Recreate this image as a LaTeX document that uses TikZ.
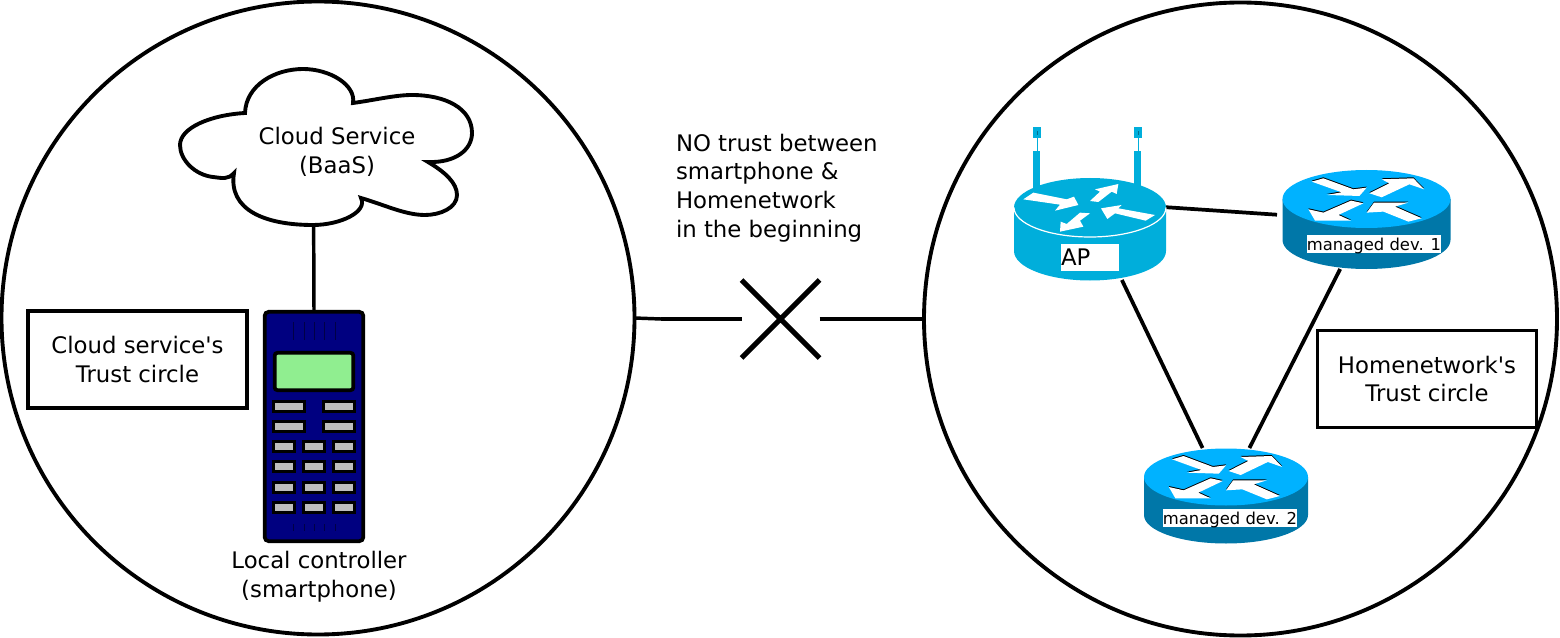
\documentclass[tikz,border=0pt]{standalone}
\usepackage{fontspec}
\newfontfamily\dejav{DejaVu Sans}
\usetikzlibrary{shapes.misc}
\definecolor{apblue}{HTML}{00AEDB}
\definecolor{apdark}{HTML}{00708E}
\definecolor{devtop}{HTML}{00B2FF}
\definecolor{devside}{HTML}{0077A8}
\definecolor{keygray}{HTML}{BEBEBE}
\definecolor{screen}{HTML}{90EE90}
\definecolor{phonebody}{HTML}{000080}
\tikzset{
  every node/.style={inner sep=0pt,outer sep=0pt},
  mainfont/.style={font=\dejav\fontsize{17.1pt}{21.6pt}\selectfont},
  smallfont/.style={font=\dejav\fontsize{12.3pt}{14pt}\selectfont},
  trustcircle/.style={circle,draw=black,line width=2.9pt,minimum size=474.75pt},
  trustbox/.style={rectangle,draw=black,line width=2.6pt,fill=white,minimum width=164pt,minimum height=72.5pt,mainfont,align=center},
  textlabel/.style={mainfont,align=center},
  link/.style={draw=black,line width=2.8pt},
  thinlink/.style={draw=black,line width=2.6pt},
  bar/.style={draw=black,line width=3.2pt},
  keyw/.style={rectangle,draw=black,fill=keygray,line width=2.25pt,minimum width=23.25pt,minimum height=7.5pt},
  keyn/.style={rectangle,draw=black,fill=keygray,line width=2.25pt,minimum width=15.75pt,minimum height=7.5pt},
  hole/.style={draw=black!45!phonebody,line width=0.5pt},
  devlabel/.style={rectangle,fill=white,smallfont,minimum width=100pt,text height=11.8pt,text depth=1.7pt},
}
% cx, cy, rx, ry, side-bottom y, top colour, side colour
\newcommand{\routerbody}[7]{%
  \fill[#7] (#1-#3,#2) -- (#1-#3,#5) arc[start angle=180,end angle=0,x radius=#3,y radius=#4] -- (#1+#3,#2) -- cycle;
  \fill[#6] (#1,#2) ellipse[x radius=#3,y radius=#4];
}
\newcommand{\devarrows}[3]{%
  \begin{scope}[shift={(#1,#2)},x=#3*0.25pt,y=-0.25pt,shift={(-290,-118)}]
    \foreach \dy/\col in {-3/black,0/white}{
      \fill[\col] (125,65+\dy) -- (160,55+\dy) -- (250,88+\dy) -- (290,83+\dy) -- (268,108+\dy) -- (170,105+\dy) -- (215,97+\dy) -- cycle;
      \fill[\col] (298,100+\dy) -- (358,70+\dy) -- (335,58+\dy) -- (430,55+\dy) -- (462,88+\dy) -- (418,73+\dy) -- (335,112+\dy) -- cycle;
      \fill[\col] (455,175+\dy) -- (415,185+\dy) -- (340,155+\dy) -- (290,158+\dy) -- (312,128+\dy) -- (415,128+\dy) -- (375,140+\dy) -- cycle;
      \fill[\col] (280,130+\dy) -- (205,165+\dy) -- (243,182+\dy) -- (135,182+\dy) -- (115,148+\dy) -- (160,158+\dy) -- (243,122+\dy) -- cycle;
    }
  \end{scope}%
}
\begin{document}
\begin{tikzpicture}[x=0.75pt,y=-0.75pt]
\useasboundingbox (0,0) rectangle (1560,638);
% trust circles
\node[trustcircle] (lc) at (318,318) {};
\node[trustcircle] (rc) at (1240.5,319) {};
% cross and the broken link
\node[cross out,draw=black,line width=3.9pt,minimum width=58.5pt,minimum height=58.5pt] (x) at (780.5,319) {};
\coordinate (lj) at (661,319);
\coordinate (rj) at (899,319);
\draw[thinlink] (lc.east) -- (lj);
\draw[bar] (lj) -- (x.west);
\draw[bar] (x.east) -- (rj);
\draw[thinlink] (rj) -- (rc.west);
% invisible router and cloud frames
\node[rectangle,minimum width=114pt,minimum height=76.5pt] (ap) at (1090,229) {};
\node[rectangle,minimum width=125.25pt,minimum height=74.25pt] (dev1) at (1366.5,219.5) {};
\node[rectangle,minimum width=123pt,minimum height=72pt] (dev2) at (1226,496) {};
\node[rectangle,minimum width=219pt,minimum height=117pt] (cloud) at (326,147) {};
% phone
\node[rectangle,rounded corners=3pt,draw=black,fill=phonebody,line width=2.8pt,minimum width=74pt,minimum height=172pt] (phone) at (314,426.5) {};
% links
\draw[thinlink] (cloud.-99.5) -- (phone.north);
\draw[link,shorten >=4.5pt] (ap.16) -- (dev1.177.3);
\draw[link] (ap.-58) -- (dev2.116);
\draw[link] (dev1.-118.6) -- (dev2.64.4);
% cloud
\draw[black,fill=white,line width=2.9pt,line join=miter]
  (245,113) .. controls (246,85) and (275,69) .. (303,69)
  .. controls (330,69) and (356,85) .. (353,103)
  .. controls (375,100) and (395,95) .. (412,95)
  .. controls (445,95) and (472,108) .. (472,133)
  .. controls (472,150) and (455,163) .. (428,162)
  .. controls (445,172) and (457,183) .. (457,195)
  .. controls (457,208) and (440,215) .. (425,215)
  .. controls (405,215) and (385,205) .. (361,198)
  .. controls (368,212) and (340,225) .. (313,225)
  .. controls (265,225) and (228,210) .. (234,173)
  .. controls (228,180) and (222,178) .. (213,177)
  .. controls (195,175) and (180,160) .. (180,145)
  .. controls (180,128) and (210,115) .. (245,113) -- cycle;
\node[textlabel] (cloudtext) at (337,152) {Cloud Service\\(BaaS)};
% phone details
\node[rectangle,rounded corners=2pt,draw=black,fill=screen,line width=2.8pt,minimum width=59pt,minimum height=28pt] (scr) at (314,371.5) {};
\foreach \gx in {293,304,314,324,335}{\draw[hole] (\gx,322) -- (\gx,340); \draw[hole] (\gx,524) -- (\gx,531);}
\foreach \ky [count=\i] in {406.5,426.5}{
  \node[keyw] (kl\i) at (289,\ky) {};
  \node[keyw] (kr\i) at (339,\ky) {};
}
\foreach \ky [count=\i] in {446.5,466.5,487.5,507.5}{
  \node[keyn] (ka\i) at (284,\ky) {};
  \node[keyn] (kb\i) at (314,\ky) {};
  \node[keyn] (kc\i) at (344,\ky) {};
}
% AP router
\fill[apblue] (1033,151) rectangle (1040,192);
\fill[apblue] (1134,151) rectangle (1141,192);
\fill[apblue] (1033,127) rectangle (1041,138);
\fill[apblue] (1134,127) rectangle (1142,138);
\draw[apblue,line width=0.6pt] (1037,138) -- (1037,151);
\draw[apblue,line width=0.6pt] (1138,138) -- (1138,151);
\fill[apdark] (1036.5,131) rectangle (1037.5,135);
\fill[apdark] (1137.5,131) rectangle (1138.5,135);
\routerbody{1090}{207.5}{76}{29.5}{251}{apblue}{apblue}
\draw[white,line width=0.9pt] (1014,207.5) arc[start angle=180,end angle=0,x radius=76,y radius=29.5];
\begin{scope}[shift={(1090,207)},x=0.25pt,y=-0.25pt,shift={(-270,-261)}]
  \fill[white] (70,238) -- (100,218) -- (200,238) -- (222,230) -- (235,255) -- (165,272) -- (180,254) -- cycle;
  \fill[white] (270,243) -- (300,215) -- (285,208) -- (355,192) -- (350,222) -- (335,215) -- (295,246) -- cycle;
  \fill[white] (465,285) -- (437,302) -- (345,280) -- (322,297) -- (303,265) -- (365,255) -- (355,265) -- cycle;
  \fill[white] (270,280) -- (240,302) -- (250,320) -- (180,335) -- (182,305) -- (200,312) -- (240,278) -- cycle;
\end{scope}
\node[rectangle,fill=white,mainfont,text width=43.5pt,text height=16.25pt,text depth=4pt,align=left] (aplabel) at (1090,257.5) {AP};
% managed device 1
\routerbody{1366.5}{199}{84}{29}{240}{devtop}{devside}
\devarrows{1366.7}{199.3}{1}
\node[devlabel] (dev1label) at (1374,244) {managed dev. 1};
% managed device 2
\routerbody{1226}{477}{82}{28.5}{515}{devtop}{devside}
\devarrows{1226}{477}{0.98}
\node[devlabel] (dev2label) at (1230,518) {managed dev. 2};
% trust boxes
\node[trustbox] (ct) at (137.5,359.5) {Cloud service's\\Trust circle};
\node[trustbox] (ht) at (1427,379) {Homenetwork's\\Trust circle};
% captions
\node[textlabel] (lcl) at (319,577) {Local controller\\(smartphone)};
\node[textlabel,align=left,anchor=west] (notrust) at (676,188) {NO trust between\\smartphone \&\\Homenetwork\\in the beginning};
\end{tikzpicture}
\end{document}
